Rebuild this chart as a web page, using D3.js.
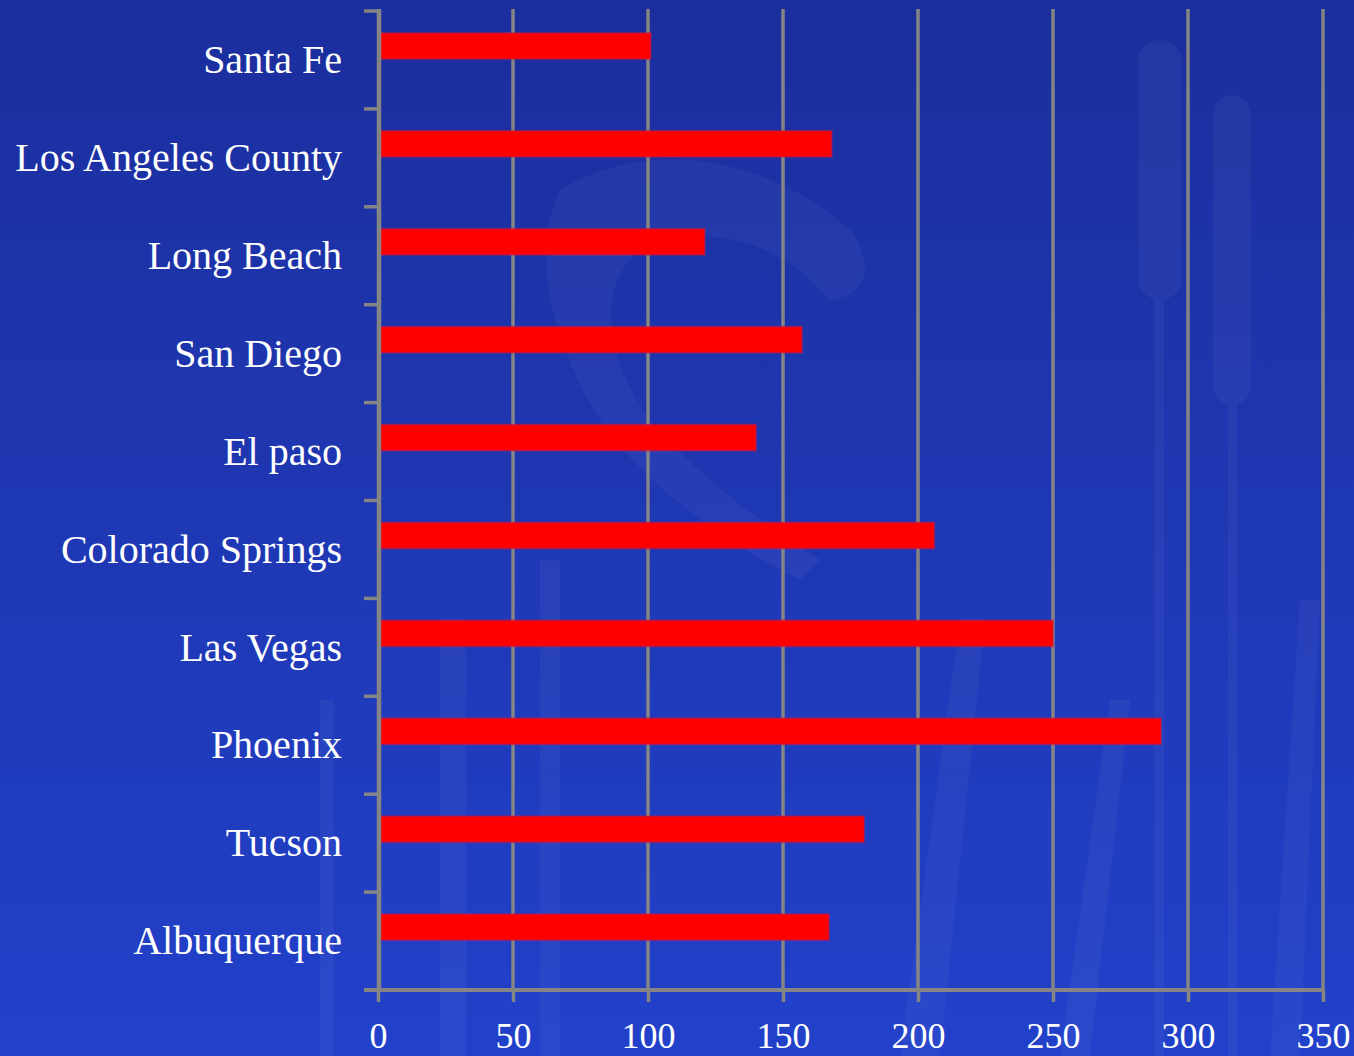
<!DOCTYPE html>
<html>
<head>
<meta charset="utf-8">
<script src="https://cdn.jsdelivr.net/npm/d3@7"></script>
<style>
  html, body { margin: 0; padding: 0; background: #1f38b4; }
  svg { display: block; }
</style>
</head>
<body>
<div id="chart"></div>
<script>
// chart data
const cities = ["Santa Fe", "Los Angeles County", "Long Beach", "San Diego", "El paso",
  "Colorado Springs", "Las Vegas", "Phoenix", "Tucson", "Albuquerque"];
const values = [101, 168, 121, 157, 140, 206, 250, 290, 180, 167];
const xTicks = [0, 50, 100, 150, 200, 250, 300, 350];

const width = 1354, height = 1056;
const gridColor = "#858585";

let svg = d3.select("#chart").append("svg")
  .attr("width", width)
  .attr("height", height);

// background gradient
let defs = svg.append("defs");
let grad = defs.append("linearGradient")
  .attr("id", "bg")
  .attr("x1", 0).attr("y1", 0).attr("x2", 0).attr("y2", 1);
grad.append("stop").attr("offset", "0%").attr("stop-color", "#1b2e9d");
grad.append("stop").attr("offset", "100%").attr("stop-color", "#2241ca");

svg.append("rect")
  .attr("width", width)
  .attr("height", height)
  .attr("fill", "url(#bg)");

// faint decoration in the background (reeds / cattails)
let deco = svg.append("g").attr("fill", "#ffffff").attr("opacity", 0.04);
deco.append("path") // big swoosh
  .attr("d", "M560,190 C640,140 760,150 850,230 C880,270 860,300 830,300 C780,240 700,220 640,250 C600,280 600,350 650,420 C700,480 760,520 820,560 L800,580 C720,540 640,480 600,420 C550,340 530,250 560,190 Z");
deco.append("rect").attr("x", 1138).attr("y", 40).attr("width", 44).attr("height", 260).attr("rx", 22);
deco.append("rect").attr("x", 1154).attr("y", 280).attr("width", 10).attr("height", 776);
deco.append("rect").attr("x", 1213).attr("y", 95).attr("width", 38).attr("height", 310).attr("rx", 19);
deco.append("rect").attr("x", 1228).attr("y", 380).attr("width", 9).attr("height", 676);
deco.append("path").attr("d", "M900,1056 L960,620 L985,620 L940,1056 Z");
deco.append("path").attr("d", "M1060,1056 L1110,700 L1130,700 L1090,1056 Z");
deco.append("path").attr("d", "M1270,1056 L1300,600 L1320,600 L1300,1056 Z");
deco.append("rect").attr("x", 440).attr("y", 620).attr("width", 26).attr("height", 436);
deco.append("rect").attr("x", 540).attr("y", 560).attr("width", 20).attr("height", 496);
deco.append("rect").attr("x", 320).attr("y", 700).attr("width", 14).attr("height", 356);

// scales
let x = d3.scaleLinear().domain([0, 350]).range([378, 1323]);
let y = d3.scaleBand().domain(cities).range([11, 990]).paddingInner(0).paddingOuter(0);
let bw = y.bandwidth();

// vertical gridlines
svg.append("g")
  .selectAll("line")
  .data(xTicks.slice(1))
  .join("line")
  .attr("x1", d => x(d)).attr("x2", d => x(d))
  .attr("y1", 9).attr("y2", 990)
  .attr("stroke", gridColor)
  .attr("stroke-width", 3.5);

// bars
svg.append("g")
  .selectAll("rect")
  .data(cities)
  .join("rect")
  .attr("x", x(0))
  .attr("y", d => y(d) + bw * 0.225)
  .attr("width", (d, i) => x(values[i]) - x(0))
  .attr("height", bw * 0.265)
  .attr("fill", "#ff0000")
  .attr("stroke", "#c81848")
  .attr("stroke-opacity", 0.5)
  .attr("stroke-width", 2);

// x axis
let xAxis = svg.append("g")
  .attr("transform", "translate(0,990)")
  .call(d3.axisBottom(x).tickValues(xTicks).tickSize(12).tickPadding(20).tickSizeOuter(0));
xAxis.select(".domain").remove();
xAxis.append("line")
  .attr("x1", 364).attr("x2", x(350))
  .attr("stroke", gridColor).attr("stroke-width", 4);
xAxis.selectAll(".tick line").attr("stroke", gridColor).attr("stroke-width", 3.5);
xAxis.selectAll(".tick text")
  .attr("fill", "#ffffff")
  .style("font-family", "'Liberation Serif', 'DejaVu Serif', serif")
  .style("font-size", "36px");

// y axis
let yTickPos = cities.map(d => y(d));
let yAxis = svg.append("g");
yAxis.append("line")
  .attr("x1", 379).attr("x2", 379)
  .attr("y1", 9).attr("y2", 992)
  .attr("stroke", gridColor).attr("stroke-width", 4.5);
yAxis.selectAll(".ytick")
  .data(yTickPos)
  .join("line")
  .attr("class", "ytick")
  .attr("x1", 364).attr("x2", 379)
  .attr("y1", d => d).attr("y2", d => d)
  .attr("stroke", gridColor).attr("stroke-width", 3.5);

// category labels
svg.append("g")
  .selectAll("text")
  .data(cities)
  .join("text")
  .attr("x", 342)
  .attr("y", d => y(d) + bw * 0.5)
  .attr("dy", "0.33em")
  .attr("text-anchor", "end")
  .attr("fill", "#ffffff")
  .style("font-family", "'Liberation Serif', 'DejaVu Serif', serif")
  .style("font-size", "40px")
  .text(d => d);
</script>
</body>
</html>
